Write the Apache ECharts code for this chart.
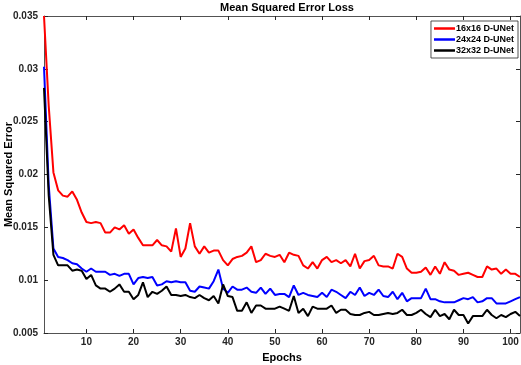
<!DOCTYPE html>
<html>
<head>
<meta charset="utf-8">
<script src="https://cdn.jsdelivr.net/npm/echarts@6/dist/echarts.min.js"></script>
<style>
  html, body { margin: 0; padding: 0; background: #fff; }
  #chart { width: 521px; height: 365px; }
</style>
</head>
<body>
<div id="chart"></div>
<script>
// epochs 1..102
const epochs = Array.from({ length: 102 }, (_, i) => i + 1);

const mse16 = [
  0.0350, 0.0265, 0.0202, 0.0185, 0.0180, 0.0179, 0.0184, 0.0176, 0.0164, 0.0155,
  0.0154, 0.0155, 0.0154, 0.0145, 0.0145, 0.0150, 0.0148, 0.0152, 0.0144, 0.0148,
  0.0140, 0.0133, 0.0133, 0.0133, 0.0138, 0.0133, 0.0132, 0.0127, 0.0149, 0.0122,
  0.0130, 0.0154, 0.0132, 0.0125, 0.0132, 0.0126, 0.0128, 0.0128, 0.0119, 0.0114,
  0.0120, 0.0122, 0.0123, 0.0126, 0.0132, 0.0117, 0.0119, 0.0125, 0.0123, 0.0122,
  0.0124, 0.0117, 0.0126, 0.0124, 0.0123, 0.0114, 0.0111, 0.0117, 0.0111, 0.0119,
  0.0122, 0.0117, 0.0119, 0.0116, 0.0119, 0.0113, 0.0125, 0.0111, 0.0118, 0.0119,
  0.0123, 0.0114, 0.0113, 0.0113, 0.0111, 0.0125, 0.0122, 0.0111, 0.0107, 0.0107,
  0.0108, 0.0112, 0.0105, 0.0113, 0.0106, 0.0117, 0.0110, 0.0109, 0.0105, 0.0106,
  0.0107, 0.0105, 0.0103, 0.0103, 0.0113, 0.0110, 0.0111, 0.0106, 0.0110, 0.0106,
  0.0106, 0.0103
];

const mse24 = [
  0.0302, 0.0190, 0.0130, 0.0122, 0.0121, 0.0119, 0.0116, 0.0115, 0.0111, 0.0108,
  0.0111, 0.0108, 0.0108, 0.0108, 0.0105, 0.0106, 0.0104, 0.0106, 0.0106, 0.0096,
  0.0102, 0.0103, 0.0102, 0.0103, 0.0095, 0.0096, 0.0099, 0.0098, 0.0099, 0.0098,
  0.0098, 0.0090, 0.0089, 0.0094, 0.0093, 0.0092, 0.0099, 0.0110, 0.0092, 0.0088,
  0.0094, 0.0091, 0.0091, 0.0093, 0.0089, 0.0088, 0.0093, 0.0087, 0.0092, 0.0086,
  0.0087, 0.0087, 0.0084, 0.0095, 0.0086, 0.0088, 0.0086, 0.0085, 0.0084, 0.0088,
  0.0084, 0.0091, 0.0089, 0.0086, 0.0083, 0.0089, 0.0086, 0.0093, 0.0085, 0.0088,
  0.0086, 0.0091, 0.0085, 0.0084, 0.0089, 0.0082, 0.0088, 0.0080, 0.0083, 0.0083,
  0.0083, 0.0092, 0.0082, 0.0082, 0.0080, 0.0079, 0.0079, 0.0079, 0.0081, 0.0083,
  0.0082, 0.0084, 0.0079, 0.0080, 0.0083, 0.0083, 0.0078, 0.0078, 0.0078, 0.0080,
  0.0082, 0.0084
];

const mse32 = [
  0.0282, 0.0180, 0.0124, 0.0114, 0.0114, 0.0114, 0.0109, 0.0110, 0.0109, 0.0101,
  0.0105, 0.0095, 0.0092, 0.0092, 0.0089, 0.0092, 0.0096, 0.0089, 0.0089, 0.0082,
  0.0086, 0.0098, 0.0084, 0.0089, 0.0087, 0.0090, 0.0094, 0.0086, 0.0086, 0.0085,
  0.0086, 0.0084, 0.0083, 0.0086, 0.0083, 0.0081, 0.0085, 0.0078, 0.0096, 0.0085,
  0.0084, 0.0071, 0.0071, 0.0079, 0.0069, 0.0076, 0.0076, 0.0073, 0.0073, 0.0073,
  0.0075, 0.0073, 0.0071, 0.0085, 0.0069, 0.0073, 0.0066, 0.0075, 0.0073, 0.0073,
  0.0073, 0.0076, 0.0069, 0.0072, 0.0072, 0.0068, 0.0067, 0.0067, 0.0069, 0.0070,
  0.0067, 0.0067, 0.0068, 0.0069, 0.0068, 0.0069, 0.0072, 0.0067, 0.0067, 0.0069,
  0.0072, 0.0068, 0.0065, 0.0072, 0.0066, 0.0068, 0.0063, 0.0072, 0.0067, 0.0067,
  0.0059, 0.0066, 0.0066, 0.0066, 0.0072, 0.0067, 0.0064, 0.0067, 0.0065, 0.0068,
  0.0070, 0.0066
];

const xTicks = [10, 20, 30, 40, 50, 60, 70, 80, 90, 100];
const seriesNames = ['16x16 D-UNet', '24x24 D-UNet', '32x32 D-UNet'];
const seriesColors = ['#ff0000', '#0000ff', '#000000'];

const chart = echarts.init(document.getElementById('chart'), null, { renderer: 'canvas' });

const font = 'Liberation Sans, Arial, Helvetica, sans-serif';
const axisColor = '#262626';

const boxAxisX = {
  type: 'value', min: 1, max: 102,
  axisLine: { show: true, lineStyle: { color: axisColor, width: 0.8 } },
  axisTick: { show: true, inside: true, length: 4, customValues: xTicks, lineStyle: { color: axisColor } },
  splitLine: { show: false }
};
const boxAxisY = {
  type: 'value', min: 0.005, max: 0.035, interval: 0.005,
  axisLine: { show: true, lineStyle: { color: axisColor, width: 0.8 } },
  axisTick: { show: true, inside: true, length: 4, lineStyle: { color: axisColor } },
  splitLine: { show: false }
};

const data = [mse16, mse24, mse32];

chart.setOption({
  animation: false,
  backgroundColor: '#fff',
  title: {
    text: 'Mean Squared Error Loss',
    left: 282, top: -3, textAlign: 'center',
    textStyle: { fontFamily: font, fontSize: 11, fontWeight: 'bold', color: '#000' }
  },
  legend: {
    right: 3, top: 21,
    orient: 'vertical',
    backgroundColor: '#fff',
    borderColor: axisColor, borderWidth: 0.8, borderRadius: 0,
    padding: [3, 4, 3, 3],
    itemGap: 2,
    itemWidth: 21, itemHeight: 2.5,
    icon: 'rect',
    textStyle: { fontFamily: font, fontSize: 9, fontWeight: 'bold', color: '#000', padding: [0, 0, 0, -4] },
    data: seriesNames
  },
  grid: { left: 44, right: 1, top: 16, bottom: 32, outerBoundsMode: 'none' },
  xAxis: [
    Object.assign({}, boxAxisX, {
      position: 'bottom',
      name: 'Epochs', nameLocation: 'middle', nameGap: 19, nameMoveOverlap: false,
      nameTextStyle: { fontFamily: font, fontSize: 11, fontWeight: 'bold', color: '#000' },
      axisLabel: { show: true, customValues: xTicks, margin: 4, fontFamily: font, fontSize: 10, fontWeight: 'bold', color: axisColor }
    }),
    Object.assign({}, boxAxisX, { position: 'top', axisLabel: { show: false } })
  ],
  yAxis: [
    Object.assign({}, boxAxisY, {
      position: 'left',
      name: 'Mean Squared Error', nameLocation: 'middle', nameGap: 30, nameMoveOverlap: false,
      nameTextStyle: { fontFamily: font, fontSize: 11, fontWeight: 'bold', color: '#000' },
      axisLabel: {
        show: true, margin: 6, fontFamily: font, fontSize: 10, fontWeight: 'bold', color: axisColor,
        formatter: v => String(Number(v.toFixed(3)))
      }
    }),
    Object.assign({}, boxAxisY, { position: 'right', axisLabel: { show: false } })
  ],
  series: seriesNames.map((name, k) => ({
    name: name,
    type: 'line',
    xAxisIndex: 0, yAxisIndex: 0,
    showSymbol: false,
    symbol: 'none',
    color: seriesColors[k],
    lineStyle: { width: 2, color: seriesColors[k] },
    data: epochs.map((e, i) => [e, data[k][i]])
  }))
});
</script>
</body>
</html>
